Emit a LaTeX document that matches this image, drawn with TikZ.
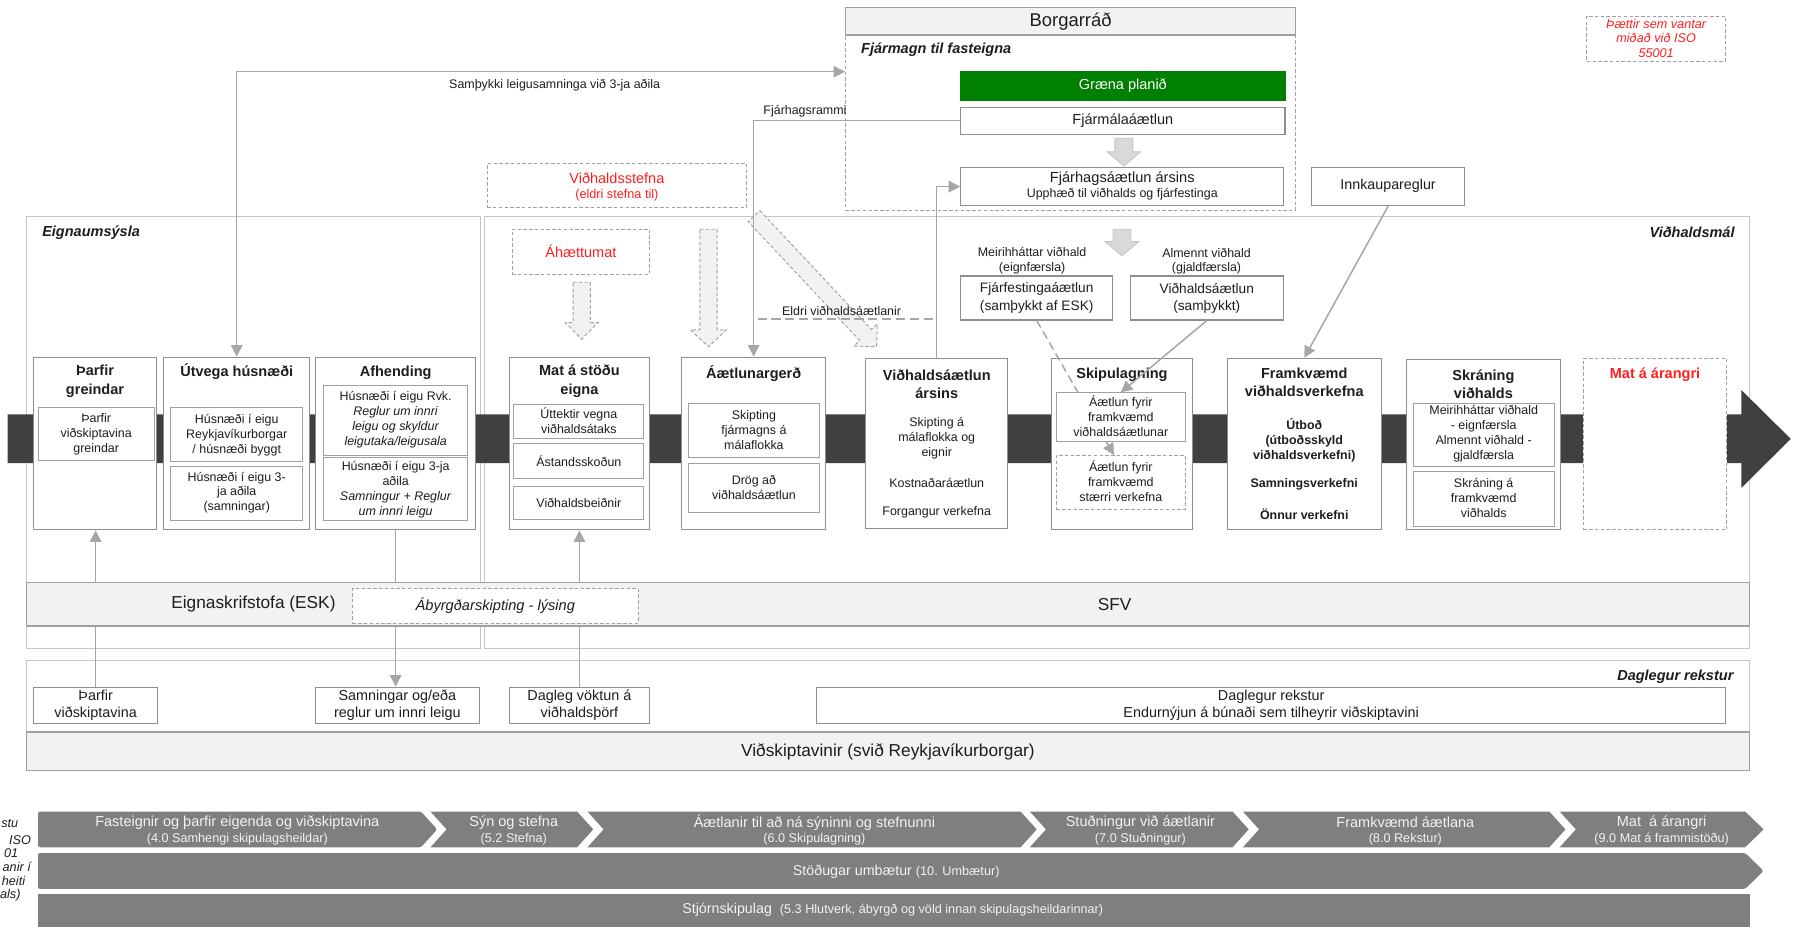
\documentclass[tikz,border=0pt]{standalone}
\usepackage{fontspec}
\setmainfont{Liberation Sans}
\usetikzlibrary{arrows.meta,calc}
\definecolor{ink}{HTML}{1E1E1E}
\definecolor{bord}{HTML}{8E8E8E}
\definecolor{inb}{HTML}{A0A0A0}
\definecolor{frmc}{HTML}{C6C6C6}
\definecolor{conn}{HTML}{A6A6A6}
\definecolor{spinec}{HTML}{404040}
\definecolor{bandf}{HTML}{F2F2F2}
\definecolor{chevc}{HTML}{7F7F7F}
\definecolor{chevt}{HTML}{F2F2F2}
\definecolor{grn}{HTML}{008000}
\definecolor{rd}{HTML}{FF1F1F}
\definecolor{blkf}{HTML}{D9D9D9}
\newcommand\fsz[2]{\fontsize{#1}{#2}\selectfont}
\newcommand\bx[7]{\node[#6,minimum width={#4-#2},minimum height={#5-#3},inner sep=0pt] (#1) at ({(#2+#4)/2},{(#3+#5)/2}) {#7};}
\begin{document}
\begin{tikzpicture}[x=1pt,y=-1pt,
  pbox/.style={draw=bord, fill=white, line width=0.9pt},
  ibox/.style={draw=inb, fill=white, line width=0.8pt},
  dbox/.style={draw=inb, fill=white, line width=0.8pt, dash pattern=on 3pt off 2pt},
  dframe/.style={draw=inb, line width=0.8pt, dash pattern=on 3pt off 2pt},
  frm/.style={draw=frmc, line width=0.9pt},
  bandbox/.style={draw=inb, fill=bandf, line width=1pt},
  tx/.style={text=ink, align=center, inner sep=0pt, font=\fsz{10.8}{13}},
  txb/.style={text=ink, align=center, inner sep=0pt, font=\bfseries\fsz{10.8}{13}},
  txm/.style={text=ink, align=center, inner sep=0pt, font=\fsz{12.6}{15}},
  ttl/.style={text=ink, align=center, inner sep=0pt, font=\bfseries\fsz{12.6}{15.9}},
  lbl/.style={text=ink, inner sep=0pt, font=\bfseries\itshape\fsz{12.6}{15}},
  big/.style={text=ink, align=center, inner sep=0pt, font=\fsz{15}{18}},
  redt/.style={text=rd, align=center, inner sep=0pt},
  cn/.style={draw=conn, line width=1.3pt},
  arrowend/.style={-{Triangle[width=10pt,length=10pt]}},
  dashcn/.style={dash pattern=on 7pt off 4pt},
  blk/.style={fill=blkf, draw=frmc, line width=0.8pt},
  dblk/.style={fill=bandf, draw=inb, line width=0.8pt, dash pattern=on 3pt off 2pt},
  chv/.style={fill=chevc},
  chvt/.style={text=chevt, align=center, inner sep=0pt},
  edge/.style={text=ink, inner sep=0pt, anchor=east, font=\itshape\fsz{11}{13}}
]
\useasboundingbox (0,0) rectangle (1560,806.5);
\fill[white] (0,0) rectangle (1560,806.5);

% ---------- frames ----------
\bx{eign}{23}{188}{417}{562.6}{frm}{}
\bx{vidm}{421}{188}{1519}{562.6}{frm}{}
\bx{dagl}{23}{573.5}{1519}{669}{frm}{}
\node[lbl, anchor=west] (l-eign) at (36.5,201.7) {Eignaumsýsla};
\node[lbl, anchor=east] (l-vidm) at (1506,201.7) {Viðhaldsmál};
\node[lbl, anchor=east] (l-dagl) at (1505,587.4) {Daglegur rekstur};

% ---------- spine ----------
\fill[spinec] (6.7,359.7) -- (1511.6,359.7) -- (1511.6,338.5) -- (1554.6,381) -- (1511.6,423.6) -- (1511.6,402) -- (6.7,402) -- cycle;

% ---------- process boxes ----------
\bx{thg}{29}{310}{136}{460}{pbox}{}
\node[ttl] (t-thg) at (82.5,331) {Þarfir\\greindar};
\bx{thgi}{33}{354}{134}{400}{ibox}{}
\node[tx] (t-thgi) at (83.5,376.7) {Þarfir\\viðskiptavina\\greindar};

\bx{utv}{142}{310}{269}{460}{pbox}{}
\node[ttl] (t-utv) at (205.5,323) {Útvega húsnæði};
\bx{utv1}{148}{354}{263}{401}{ibox}{}
\node[tx] (t-utv1) at (205.5,377.6) {Húsnæði í eigu\\Reykjavíkurborgar\\/ húsnæði byggt};
\bx{utv2}{148}{405}{263}{452}{ibox}{}
\node[tx] (t-utv2) at (205.5,427.7) {Húsnæði í eigu 3-\\ja aðila\\(samningar)};

\bx{afh}{274}{310}{413}{460}{pbox}{}
\node[ttl] (t-afh) at (343.5,324) {Afhending};
\bx{afh1}{281}{335}{406}{395}{ibox}{}
\node[tx] (t-afh1) at (343.5,364.4) {Húsnæði í eigu Rvk.\\\textit{Reglur um innri}\\\textit{leigu og skyldur}\\\textit{leigutaka/leigusala}};
\bx{afh2}{281}{397}{406}{452}{ibox}{}
\node[tx] (t-afh2) at (343.5,424.8) {Húsnæði í eigu 3-ja\\aðila\\\textit{Samningur + Reglur}\\\textit{um innri leigu}};

\bx{mat}{442}{310}{564}{460}{pbox}{}
\node[ttl] (t-mat) at (503,331) {Mat á stöðu\\eigna};
\bx{mat1}{446}{351}{559}{381}{ibox}{}
\node[tx] (t-mat1) at (502.5,365.5) {Úttektir vegna\\viðhaldsátaks};
\bx{mat2}{446}{385}{559}{415}{ibox}{}
\node[tx] (t-mat2) at (502.5,400) {Ástandsskoðun};
\bx{mat3}{446}{422}{559}{451}{ibox}{}
\node[tx] (t-mat3) at (502.5,436.5) {Viðhaldsbeiðnir};

\bx{aaetl}{591.5}{310}{717}{460}{pbox}{}
\node[ttl] (t-aaetl) at (654.25,324) {Áætlunargerð};
\bx{aa1}{598}{350.6}{711}{397}{ibox}{}
\node[tx] (t-aa1) at (654.5,373.6) {Skipting\\fjármagns á\\málaflokka};
\bx{aa2}{598}{402.6}{711}{445}{ibox}{}
\node[tx] (t-aa2) at (654.5,423.2) {Drög að\\viðhaldsáætlun};

\bx{vidars}{751.7}{311}{874.6}{459}{pbox}{}
\node[ttl] (t-vidars) at (813.2,333.3) {Viðhaldsáætlun\\ársins};
\node[tx] (t-vidars1) at (813.2,380) {Skipting á\\málaflokka og\\eignir};
\node[tx] (t-vidars2) at (813.2,419) {Kostnaðaráætlun};
\node[tx] (t-vidars3) at (813.2,445) {Forgangur verkefna};

\bx{skip}{912.8}{311}{1035.5}{460}{pbox}{}
\node[ttl] (t-skip) at (974,325.6) {Skipulagning};

\bx{framkv}{1065.5}{311}{1199}{460}{pbox}{}
\node[ttl] (t-framkv) at (1132.25,331.7) {Framkvæmd\\viðhaldsverkefna};
\node[txb] (t-framkv1) at (1132.25,382) {Útboð\\(útboðsskyld\\viðhaldsverkefni)};
\node[txb] (t-framkv2) at (1132.25,420.4) {Samningsverkefni};
\node[txb] (t-framkv3) at (1132.25,446.4) {Önnur verkefni};

\bx{skr}{1221}{311.8}{1354.5}{460}{pbox}{}
\node[ttl] (t-skr) at (1287.75,333.8) {Skráning\\viðhalds};
\bx{skr1}{1227}{350}{1349}{404.6}{ibox}{}
\node[tx] (t-skr1) at (1288,376.3) {Meirihháttar viðhald\\- eignfærsla\\Almennt viðhald -\\gjaldfærsla};
\bx{skr2}{1227}{409}{1349}{457}{ibox}{}
\node[tx] (t-skr2) at (1288,432) {Skráning á\\framkvæmd\\viðhalds};

\bx{matar}{1374.5}{311}{1499}{460}{dbox}{}
\node[redt, font=\bfseries\fsz{12.6}{15}] (t-matar) at (1436.75,325) {Mat á árangri};

% ---------- top: Borgarráð ----------
\bx{fjarmagn}{734}{30.4}{1124.7}{182.3}{dframe}{}
\bx{borg}{734}{6.4}{1124.7}{30.4}{bandbox}{}
\node[text=ink, inner sep=0pt, font=\fsz{16}{18}] (t-borg) at (929.4,18.8) {Borgarráð};
\node[lbl, anchor=west] (l-fjarmagn) at (747.4,43.4) {Fjármagn til fasteigna};
\bx{graena}{834}{61.6}{1115.5}{86.8}{fill=grn, draw=grn}{}
\node[text=white, inner sep=0pt, font=\fsz{12.6}{15}] (t-graena) at (974.75,74.4) {Græna planið};
\bx{fjarmal}{834}{92.9}{1115.5}{116.6}{pbox}{}
\node[txm] (t-fjarmal) at (974.75,104.7) {Fjármálaáætlun};
\filldraw[blk] (967.8,120) -- (983.4,120) -- (983.4,131.7) -- (990.1,131.7) -- (975.6,144) -- (961.1,131.7) -- (967.8,131.7) -- cycle;
\bx{fjarhag}{834}{145.5}{1114.5}{178.5}{pbox}{}
\node[text=ink, inner sep=0pt, font=\fsz{12.7}{15}] (t-fjarhag1) at (974.25,154.8) {Fjárhagsáætlun ársins};
\node[tx] (t-fjarhag2) at (974.25,168.7) {Upphæð til viðhalds og fjárfestinga};
\bx{innk}{1138.6}{145.5}{1271.5}{178.5}{pbox}{}
\node[text=ink, inner sep=0pt, font=\fsz{12.4}{15}] (t-innk) at (1205,161.5) {Innkaupareglur};
\bx{note}{1377.5}{13.9}{1498}{53}{dframe}{}
\node[redt, font=\itshape\fsz{11}{12.7}] (t-note) at (1437.7,33.3) {Þættir sem vantar\\miðað við ISO\\55001};

\bx{stefna}{423}{141.8}{648}{180.3}{dbox}{}
\node[redt, font=\fsz{12.6}{15}] (t-stefna1) at (535.5,154.8) {Viðhaldsstefna};
\node[redt, font=\fsz{11}{13}] (t-stefna2) at (535.5,169.3) {(eldri stefna til)};
\bx{ahaett}{444.6}{199}{564}{238}{dbox}{}
\node[redt, font=\fsz{12.6}{15}] (t-ahaett) at (504.3,218.5) {Áhættumat};

% dashed block arrows
\filldraw[dblk] (497.5,245) -- (512.5,245) -- (512.5,280) -- (519.2,280) -- (505,294.4) -- (490.8,280) -- (497.5,280) -- cycle;
\filldraw[dblk] (607.5,199) -- (622.5,199) -- (622.5,286.4) -- (630.6,286.4) -- (615,301) -- (599.4,286.4) -- (607.5,286.4) -- cycle;
% diagonal dashed block arrow (under the line and its label)
\filldraw[dblk] (659.7,182.8) -- (756.5,286.0) -- (761.6,281.2) -- (761,301) -- (741.2,300.4) -- (746.3,295.6) -- (649.5,192.4) -- cycle;

% second solid block arrow + plans
\filldraw[blk] (966.2,199) -- (981.8,199) -- (981.8,209.8) -- (988.5,209.8) -- (974,222) -- (959.5,209.8) -- (966.2,209.8) -- cycle;
\node[tx, font=\fsz{10.8}{12.7}] (t-meiri) at (896,226.3) {Meirihháttar viðhald\\(eignfærsla)};
\node[tx, font=\fsz{10.8}{12.7}] (t-almennt) at (1047.4,226.8) {Almennt viðhald\\(gjaldfærsla)};
\bx{fjarf}{834}{239.6}{966}{277.8}{pbox}{}
\node[text=ink, align=center, inner sep=0pt, font=\fsz{11.9}{15}] (t-fjarf) at (900,258.7) {Fjárfestingaáætlun\\(samþykkt af ESK)};
\bx{vidsam}{981.5}{239.6}{1113.8}{277.8}{pbox}{}
\node[text=ink, align=center, inner sep=0pt, font=\fsz{11.9}{15}] (t-vidsam) at (1047.6,258.7) {Viðhaldsáætlun\\(samþykkt)};

% connectors into Skipulagning (drawn over the box, under the inner boxes)
\bx{sk2}{917}{395.5}{1029}{442}{dbox}{}
\node[tx] (t-sk2) at (973,418) {Áætlun fyrir\\framkvæmd\\stærri verkefna};
\draw[cn, dashcn, arrowend] (fjarf.south) -- ($(sk2.north)+(-6,0)$);
\bx{sk1}{917}{341}{1029}{383}{ibox}{}
\node[tx] (t-sk1) at (973,361) {Áætlun fyrir\\framkvæmd\\viðhaldsáætlunar};
\draw[cn, arrowend] (vidsam.south) -- (sk1.north);

% other top connectors
\coordinate (samk) at (205.5,62.2);
\draw[cn, {Triangle[width=10pt,length=10pt]}-{Triangle[width=10pt,length=10pt]}] (utv.north) -- (samk) -- (samk -| fjarmagn.west);
\node[tx] (t-samk) at (481.5,73.8) {Samþykki leigusamninga við 3-ja aðila};
\draw[cn, arrowend] (fjarmal.west) -| (aaetl.north);
\node[tx, anchor=east] (t-ramm) at (735,96.4) {Fjárhagsrammi};
\draw[cn, arrowend] (vidars.north) |- (fjarhag.west);
\draw[cn, arrowend] (innk.south) -- (framkv.north);
\coordinate (eldA) at (657.7,277);
\coordinate (eldB) at (812.5,277);
\draw[cn, dash pattern=on 8pt off 4pt, line width=1.1pt] (eldA) -- (eldB);
\node[tx] (t-eldri) at (730.6,269.7) {Eldri viðhaldsáætlanir};

% ---------- bottom boxes ----------
\bx{thv}{29}{596.5}{137}{628}{pbox}{}
\node[txm, font=\fsz{12.5}{15.3}] (t-thv) at (83,612.3) {Þarfir\\viðskiptavina};
\bx{samn}{274}{596.5}{416}{628}{pbox}{}
\node[txm, font=\fsz{12.5}{15.3}] (t-samn) at (345,612.3) {Samningar og/eða\\reglur um innri leigu};
\bx{dagv}{442}{596.5}{564}{628}{pbox}{}
\node[txm, font=\fsz{12.5}{15.3}] (t-dagv) at (503,612.3) {Dagleg vöktun á\\viðhaldsþörf};
\bx{daglr}{709}{596.5}{1498}{628}{pbox}{}
\node[txm, font=\fsz{12.5}{15.3}] (t-daglr) at (1103.5,612.3) {Daglegur rekstur\\Endurnýjun á búnaði sem tilheyrir viðskiptavini};

% connectors passing under the ESK band
\draw[cn, arrowend] (thv.north) -- (thv.north |- thg.south);
\draw[cn, arrowend] (afh.south) -- (afh.south |- samn.north);
\draw[cn, arrowend] (dagv.north) -- (mat.south);

% ---------- bands ----------
\bx{esk}{23}{505.5}{1519}{543.4}{bandbox}{}
\node[big] (t-esk) at (220,524.6) {Eignaskrifstofa (ESK)};
\node[big] (t-sfv) at (967.6,524.6) {SFV};
\bx{abyrgd}{306}{511}{554}{541}{dbox}{}
\node[text=ink, inner sep=0pt, font=\itshape\fsz{12.7}{15}] (t-abyrgd) at (430,526) {Ábyrgðarskipting - lýsing};
\bx{vidsk}{23}{635.5}{1519}{669}{bandbox}{}
\node[big] (t-vidsk) at (770.8,652.5) {Viðskiptavinir (svið Reykjavíkurborgar)};

% ---------- ISO 55001 chevrons ----------
\fill[chv, rounded corners=2pt] (33,704.5) -- (365.5,704.5) -- (379.5,720) -- (365.5,735.5) -- (33,735.5) -- cycle;
\fill[chv] (373.7,704.5) -- (501,704.5) -- (515,720) -- (501,735.5) -- (373.7,735.5) -- (387.7,720) -- cycle;
\fill[chv] (510,704.5) -- (886,704.5) -- (900,720) -- (886,735.5) -- (510,735.5) -- (524,720) -- cycle;
\fill[chv] (894,704.5) -- (1070,704.5) -- (1084,720) -- (1070,735.5) -- (894,735.5) -- (908,720) -- cycle;
\fill[chv] (1079,704.5) -- (1345,704.5) -- (1359,720) -- (1345,735.5) -- (1079,735.5) -- (1093,720) -- cycle;
\fill[chv] (1354,704.5) -- (1515,704.5) -- (1531,720) -- (1515,735.5) -- (1354,735.5) -- (1368,720) -- cycle;
\fill[chv, rounded corners=2pt] (33,740.5) -- (1515,740.5) -- (1531,756) -- (1515,771.7) -- (33,771.7) -- cycle;
\fill[chv] (33,776) rectangle (1519,804.6);

\node[chvt, font=\fsz{12.6}{14}] (c1a) at (206,714) {Fasteignir og þarfir eigenda og viðskiptavina};
\node[chvt, font=\fsz{11}{13}] (c1b) at (206,728.5) {(4.0 Samhengi skipulagsheildar)};
\node[chvt, font=\fsz{12.6}{14}] (c2a) at (446,714) {Sýn og stefna};
\node[chvt, font=\fsz{11}{13}] (c2b) at (446,728.5) {(5.2 Stefna)};
\node[chvt, font=\fsz{12.6}{14}] (c3a) at (707,714) {Áætlanir til að ná sýninni og stefnunni};
\node[chvt, font=\fsz{11}{13}] (c3b) at (707,728.5) {(6.0 Skipulagning)};
\node[chvt, font=\fsz{12.6}{14}] (c4a) at (990,714) {Stuðningur við áætlanir};
\node[chvt, font=\fsz{11}{13}] (c4b) at (990,728.5) {(7.0 Stuðningur)};
\node[chvt, font=\fsz{12.6}{14}] (c5a) at (1220,714) {Framkvæmd áætlana};
\node[chvt, font=\fsz{11}{13}] (c5b) at (1220,728.5) {(8.0 Rekstur)};
\node[chvt, font=\fsz{12.6}{14}] (c6a) at (1442.5,714) {Mat~ á árangri};
\node[chvt, font=\fsz{11}{13}] (c6b) at (1442.5,728.5) {(9.0 Mat á frammistöðu)};
\node[chvt] (c7) at (778,757) {\fsz{12.4}{14}Stöðugar umbætur \fsz{11}{13}(10. Umbætur)};
\node[chvt] (c8) at (775,790) {\fsz{12.4}{14}Stjórnskipulag~ \fsz{11}{13}(5.3 Hlutverk, ábyrgð og völd innan skipulagsheildarinnar)};

% clipped side text at the left edge
\node[edge] (e1) at (16,714.6) {stu};
\node[edge] (e2) at (27,729) {ISO};
\node[edge] (e3) at (16,741) {01};
\node[edge] (e4) at (27,752.5) {anir í};
\node[edge] (e5) at (22,764.5) {heiti};
\node[edge] (e6) at (18,777.5) {als)};
\end{tikzpicture}
\end{document}
